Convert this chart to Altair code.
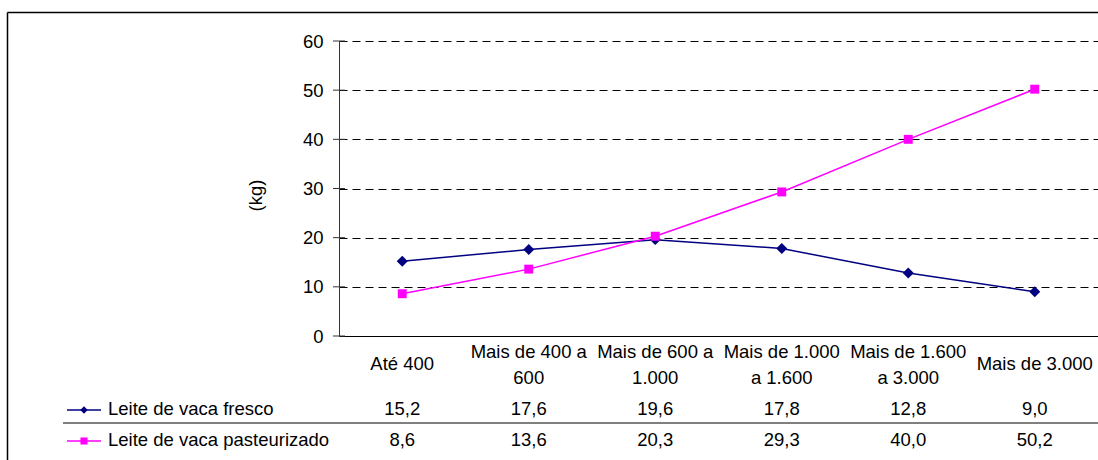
import altair as alt
import pandas as pd

# ---- data ----
categories = ["Até 400", "Mais de 400 a 600", "Mais de 600 a 1.000",
              "Mais de 1.000 a 1.600", "Mais de 1.600 a 3.000", "Mais de 3.000"]
category_labels = ["Até 400", "Mais de 400 a\n600", "Mais de 600 a\n1.000",
                   "Mais de 1.000\na 1.600", "Mais de 1.600\na 3.000", "Mais de 3.000"]
series_names = ["Leite de vaca fresco", "Leite de vaca pasteurizado"]
fresco = [15.2, 17.6, 19.6, 17.8, 12.8, 9.0]
pasteurizado = [8.6, 13.6, 20.3, 29.3, 40.0, 50.2]
y_ticks = [0, 10, 20, 30, 40, 50, 60]

# ---- styles ----
colors = ["#000080", "#FF00FF"]
shapes = ["diamond", "square"]
marker_sizes = [120, 80]
FONT = "Liberation Sans"
FS = 18.5
W, H = 759, 295
row_y = [368, 399]          # table row centres (relative to plot top)

rows = []
for s, vals in zip(series_names, [fresco, pasteurizado]):
    for c, lab, v in zip(categories, category_labels, vals):
        rows.append({"category": c, "label": lab, "series": s, "value": v,
                     "txt": f"{v:.1f}".replace(".", ",")})
df = pd.DataFrame(rows)
cat_df = pd.DataFrame({"category": categories, "label": category_labels})
tick_df = pd.DataFrame({"value": y_ticks})
leg_df = pd.DataFrame({"series": series_names})

xscale = alt.Scale(type="point", padding=0.5, domain=categories)
x_axis = alt.Axis(labels=False, ticks=False, title=None, domain=True,
                  domainColor="black", domainWidth=1, grid=False)
x_main = alt.X("category:N", sort=categories, scale=xscale, axis=x_axis)

yscale = alt.Scale(domain=[0, 60], nice=False, zero=True)
y_axis = alt.Axis(values=y_ticks, ticks=False, labelPadding=16,
                  labelFont=FONT, labelFontSize=FS, labelColor="black",
                  grid=True, gridDash=[8, 5], gridColor="black", gridWidth=1,
                  domain=True, domainColor="#333333", domainWidth=1,
                  title="(kg)", titleFont=FONT, titleFontSize=FS,
                  titleFontWeight="normal", titleColor="black",
                  titleAngle=-90, titleX=-84, titleY=154,
                  titleAlign="center", titleBaseline="middle")
y_main = alt.Y("value:Q", scale=yscale, axis=y_axis)

color_enc = alt.Color("series:N", scale=alt.Scale(domain=series_names, range=colors), legend=None)
shape_enc = alt.Shape("series:N", scale=alt.Scale(domain=series_names, range=shapes), legend=None)
size_enc = alt.Size("series:N", scale=alt.Scale(domain=series_names, range=marker_sizes), legend=None)

lines = alt.Chart(df).mark_line(strokeWidth=1.5).encode(x=x_main, y=y_main, color=color_enc)
points = alt.Chart(df).mark_point(filled=True, opacity=1).encode(
    x=x_main, y=y_main, color=color_enc, shape=shape_enc, size=size_enc)

ticks = alt.Chart(tick_df).mark_rule(color="#333333", strokeWidth=1).encode(
    y=y_main, x=alt.value(-6), x2=alt.value(6))

txt_style = dict(font=FONT, fontSize=FS, color="black", baseline="middle", align="center")
cat_two = alt.Chart(cat_df).transform_filter("indexof(datum.label, '\\n') >= 0").mark_text(
    lineBreak="\n", lineHeight=26, **txt_style).encode(x=x_main, y=alt.value(311), text="label:N")
cat_one = alt.Chart(cat_df).transform_filter("indexof(datum.label, '\\n') < 0").mark_text(
    **txt_style).encode(x=x_main, y=alt.value(323), text="label:N")

layers = [lines, points, ticks, cat_two, cat_one]

for i, s in enumerate(series_names):
    layers.append(
        alt.Chart(df).transform_filter(alt.datum.series == s)
        .mark_text(**txt_style)
        .encode(x=x_main, y=alt.value(row_y[i]), text="txt:N"))
    one = alt.Chart(leg_df).transform_filter(alt.datum.series == s)
    layers.append(one.mark_rule(color=colors[i], strokeWidth=1.5).encode(
        x=alt.value(-272), x2=alt.value(-238), y=alt.value(row_y[i] + 1)))
    layers.append(one.mark_point(filled=True, opacity=1, shape=shapes[i], color=colors[i],
                                 size=[55, 50][i]).encode(x=alt.value(-255), y=alt.value(row_y[i] + 1)))
    layers.append(one.mark_text(font=FONT, fontSize=FS, color="black", baseline="middle",
                                align="left").encode(x=alt.value(-231), y=alt.value(row_y[i]),
                                                     text="series:N"))

# table separator line and outer frame
first = alt.Chart(leg_df).transform_filter(alt.datum.series == series_names[0])
sep = first.mark_rule(color="black", strokeWidth=1).encode(
    x=alt.value(-276), x2=alt.value(W + 1), y=alt.value(382))
frame_left = first.mark_rule(color="black", strokeWidth=1.5).encode(
    x=alt.value(-331.5), y=alt.value(-28.5), y2=alt.value(H + 130))
frame_top = first.mark_rule(color="black", strokeWidth=1.5).encode(
    x=alt.value(-331.5), x2=alt.value(W + 5), y=alt.value(-28.5))
layers += [sep, frame_left, frame_top]

chart = alt.layer(*layers).properties(
    width=W, height=H,
    padding={"left": 339, "top": 41, "right": 0, "bottom": 124},
    autosize=alt.AutoSizeParams(type="none"),
    background="white",
).configure_view(stroke=None)

chart.save("out.html", embed_options={"renderer": "svg", "actions": False})
